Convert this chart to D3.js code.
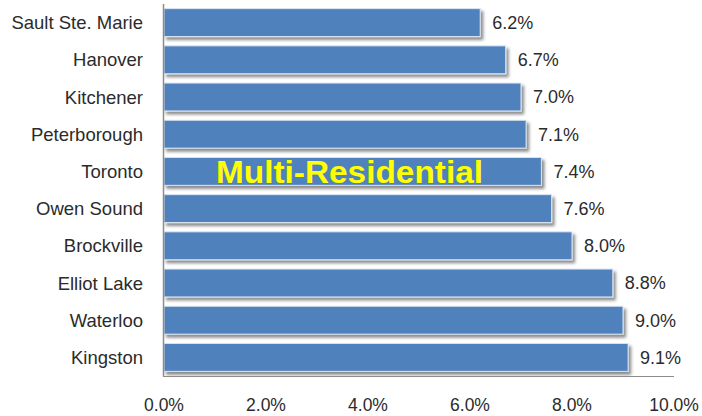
<!DOCTYPE html>
<html>
<head>
<meta charset="utf-8">
<script src="https://cdn.jsdelivr.net/npm/d3@7"></script>
<style>
  html, body { margin: 0; padding: 0; background: #ffffff; }
  svg { display: block; }
</style>
</head>
<body>
<script>
const categories = ["Sault Ste. Marie", "Hanover", "Kitchener", "Peterborough", "Toronto",
                    "Owen Sound", "Brockville", "Elliot Lake", "Waterloo", "Kingston"];
const values = [6.2, 6.7, 7.0, 7.1, 7.4, 7.6, 8.0, 8.8, 9.0, 9.1];
const tickValues = [0, 2, 4, 6, 8, 10];
const title = "Multi-Residential";

const W = 702, H = 416;
const svg = d3.select("body").append("svg").attr("width", W).attr("height", H);

const defs = svg.append("defs");
const f = defs.append("filter").attr("id", "shadow")
  .attr("x", "-5%").attr("y", "-20%").attr("width", "115%").attr("height", "160%");
f.append("feDropShadow").attr("dx", 2.5).attr("dy", 3).attr("stdDeviation", 1.4)
  .attr("flood-color", "#000").attr("flood-opacity", 0.45);

const x = d3.scaleLinear().domain([0, 10]).range([164, 674]);
const y = d3.scaleBand().domain(categories).range([4, 376])
  .paddingInner(0.25).paddingOuter(0.125);

const font = "'Liberation Sans', Arial, sans-serif";
const textColor = "#2b2b2b";

// bars
svg.append("g").selectAll("rect").data(categories).join("rect")
  .attr("x", x(0))
  .attr("y", d => y(d))
  .attr("width", (d, i) => x(values[i]) - x(0))
  .attr("height", y.bandwidth())
  .attr("fill", "#4F81BD")
  .attr("stroke", "#dbe5f1")
  .attr("stroke-width", 1)
  .attr("filter", "url(#shadow)");

// axes lines
svg.append("line").attr("x1", 163.5).attr("x2", 163.5).attr("y1", 4).attr("y2", 376.5)
  .attr("stroke", "#8c8c8c").attr("stroke-width", 1.5);
svg.append("line").attr("x1", 163).attr("x2", x(10)).attr("y1", 376.5).attr("y2", 376.5)
  .attr("stroke", "#8c8c8c").attr("stroke-width", 1.2);

// category labels
svg.append("g").selectAll("text").data(categories).join("text")
  .attr("x", 143)
  .attr("y", d => y(d) + y.bandwidth() / 2)
  .attr("dy", "0.36em")
  .attr("text-anchor", "end")
  .attr("font-family", font).attr("font-size", 18.5)
  .attr("fill", textColor)
  .text(d => d);

// value labels
svg.append("g").selectAll("text").data(categories).join("text")
  .attr("x", (d, i) => x(values[i]) + 12)
  .attr("y", d => y(d) + y.bandwidth() / 2)
  .attr("dy", "0.36em")
  .attr("font-family", font).attr("font-size", 18)
  .attr("fill", textColor)
  .text((d, i) => values[i].toFixed(1) + "%");

// x tick labels
svg.append("g").selectAll("text").data(tickValues).join("text")
  .attr("x", d => x(d))
  .attr("y", 411)
  .attr("text-anchor", "middle")
  .attr("font-family", font).attr("font-size", 17.5)
  .attr("fill", textColor)
  .text(d => d.toFixed(1) + "%");

// title
svg.append("text")
  .attr("x", 349.5).attr("y", 183)
  .attr("text-anchor", "middle")
  .attr("font-family", font).attr("font-size", 31).attr("font-weight", "bold")
  .attr("fill", "#ffff00")
  .attr("textLength", 267).attr("lengthAdjust", "spacingAndGlyphs")
  .text(title);
</script>
</body>
</html>
